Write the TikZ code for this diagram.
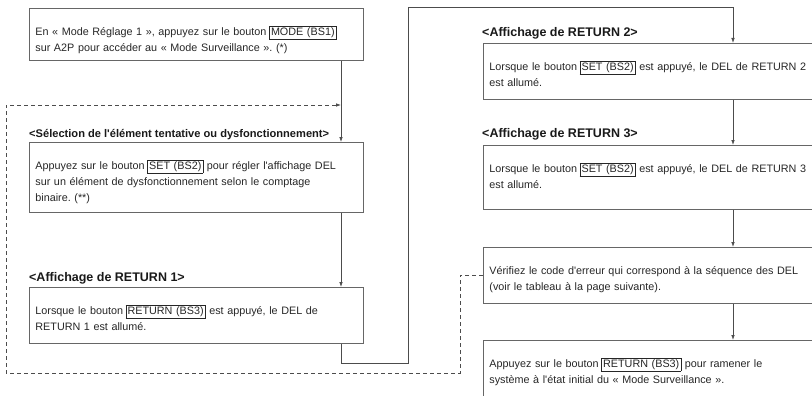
\documentclass[tikz,border=0pt]{standalone}
\usepackage{fontspec}
\setmainfont{Liberation Sans}
\usetikzlibrary{arrows.meta}
\frenchspacing

% framed button name inside the text
\newcommand{\btn}[1]{\hspace{-1pt}{\setlength{\fboxsep}{1.3pt}\setlength{\fboxrule}{0.6pt}\fbox{#1}}}
\newcommand{\aq}{\textquotesingle}

\begin{document}
\begin{tikzpicture}[x=1pt,y=-1pt,
  stepbox/.style={draw=black!60,line width=0.8pt,anchor=north west,
    text width=322pt,inner xsep=6pt,inner ysep=0pt,align=left,
    text height=27pt,text=black!85,font=\fontsize{10.8}{16}\selectfont},
  title/.style={anchor=base west,inner sep=0pt,text=black!90,
    font=\bfseries\fontsize{12.5}{14}\selectfont},
  link/.style={draw=black!70,line width=0.8pt,-{Latex[length=5pt,width=3.6pt]}},
  back/.style={link,dash pattern=on 4pt off 3pt}]

\useasboundingbox (0,0) rectangle (812,396);
\clip (0,0) rectangle (812,396);

% left column
\node[stepbox,text depth=25pt] (mode) at (29,8)
  {En «~Mode Réglage 1~», appuyez sur le bouton \btn{MODE (BS1)}\\
   sur A2P pour accéder au «~Mode Surveillance~». (*)};

\node[title,font=\bfseries\fontsize{11.1}{14}\selectfont] (tsel) at (29,137)
  {<Sélection de l\aq élément tentative ou dysfonctionnement>};
\node[stepbox,text depth=43pt] (sel) at (29,142)
  {Appuyez sur le bouton \btn{SET (BS2)} pour régler l\aq affichage DEL\\
   sur un élément de dysfonctionnement selon le comptage\\
   binaire. (**)};

\node[title] (tret1) at (29,281) {<Affichage de RETURN 1>};
\node[stepbox,text depth=29pt] (ret1) at (29,287)
  {Lorsque le bouton \btn{RETURN (BS3)} est appuyé, le DEL de\\
   RETURN 1 est allumé.};

% right column
\node[title] (tret2) at (482,37) {<Affichage de RETURN 2>};
\node[stepbox,text depth=29pt] (ret2) at (483,43)
  {Lorsque le bouton \btn{SET (BS2)} est appuyé, le DEL de RETURN 2\\
   est allumé.};

\node[title] (tret3) at (482,137) {<Affichage de RETURN 3>};
\node[stepbox,text depth=37pt] (ret3) at (483,145)
  {Lorsque le bouton \btn{SET (BS2)} est appuyé, le DEL de RETURN 3\\
   est allumé.};

\node[stepbox,text depth=29pt] (check) at (483,247)
  {Vérifiez le code d\aq erreur qui correspond à la séquence des DEL\\
   (voir le tableau à la page suivante).};

\node[stepbox,text depth=40pt] (reset) at (483,340)
  {Appuyez sur le bouton \btn{RETURN (BS3)} pour ramener le\\
   système à l\aq état initial du «~Mode Surveillance~».};

% connectors
\coordinate (lx) at (341,0);
\coordinate (rx) at (733,7);
\coordinate (jog) at (408,363);
\coordinate (dx) at (460,373);
\coordinate (lp) at (6,105);

\draw[link] (mode.south -| lx) -- (sel.north -| lx);
\draw[link] (sel.south -| lx) -- (ret1.north -| lx);
\draw[link] (ret1.south -| lx) |- (jog) |- (rx) -- (ret2.north -| rx);
\draw[link] (ret2.south -| rx) -- (ret3.north -| rx);
\draw[link] (ret3.south -| rx) -- (check.north -| rx);
\draw[link] (check.south -| rx) -- (reset.north -| rx);

% loop back
\draw[back] (check.west) -| (dx) -| (lp) -- (lx |- lp);

\end{tikzpicture}
\end{document}
